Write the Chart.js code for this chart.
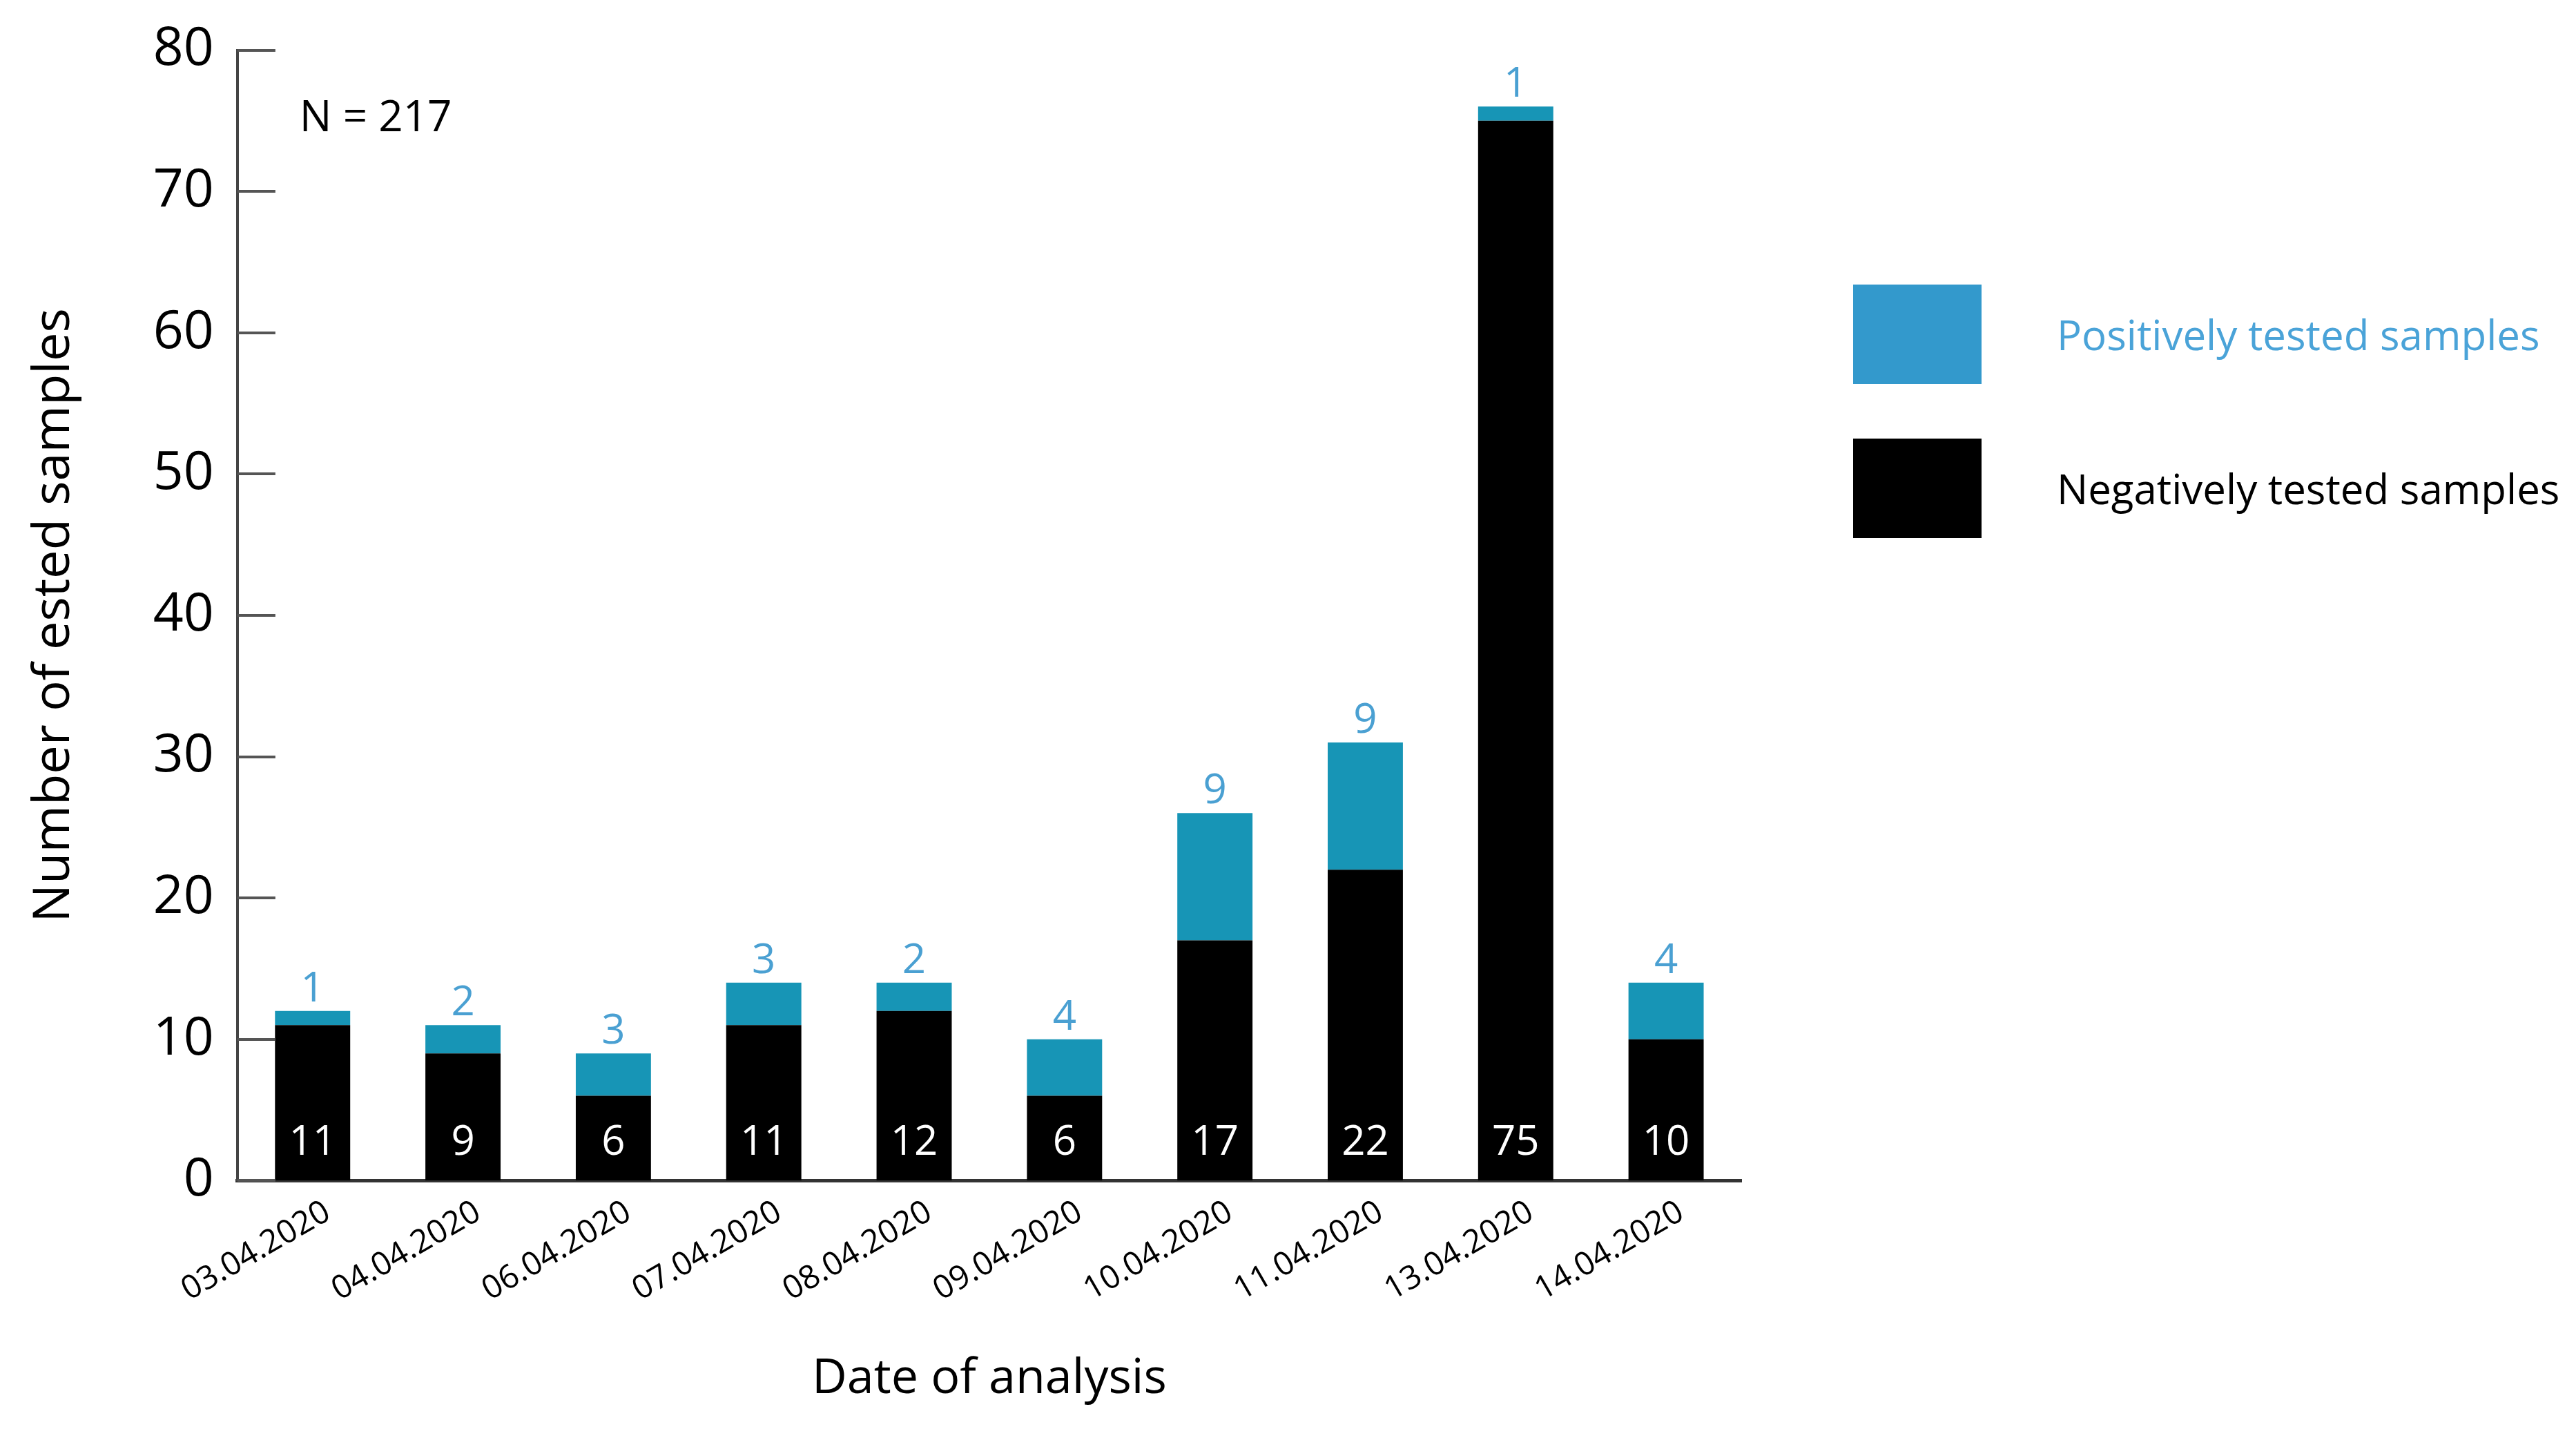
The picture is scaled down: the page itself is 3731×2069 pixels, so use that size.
<!DOCTYPE html>
<html>
<head>
<meta charset="utf-8">
<script src="https://cdn.jsdelivr.net/npm/chart.js@4.4.0/dist/chart.umd.min.js"></script>
<style>
  html, body { margin: 0; padding: 0; background: #fff; }
  #wrap { position: relative; width: 3731px; height: 2069px; }
  #legend { position: absolute; left: 2684px; top: 412px; font-family: "Open Sans", sans-serif; }
  .item { display: flex; align-items: center; margin-bottom: 79px; }
  .box { width: 186px; height: 144px; }
  .label { margin-left: 109px; font-size: 60px; white-space: nowrap; }
</style>
</head>
<body>
<div id="wrap">
  <canvas id="myChart"></canvas>
  <div id="legend"></div>
</div>
<script>
const dates = [
  "03.04.2020",
  "04.04.2020",
  "06.04.2020",
  "07.04.2020",
  "08.04.2020",
  "09.04.2020",
  "10.04.2020",
  "11.04.2020",
  "13.04.2020",
  "14.04.2020",
];
const negative = [11, 9, 6, 11, 12, 6, 17, 22, 75, 10];
const positive = [1, 2, 3, 3, 2, 4, 9, 9, 1, 4];
const yTicks = [0, 10, 20, 30, 40, 50, 60, 70, 80];

const FONT = "'Open Sans', sans-serif";

// inward tick marks on the y axis
const innerTicks = {
  id: "innerTicks",
  afterDraw(chart) {
    const y = chart.scales.y;
    const c = chart.ctx;
    c.save();
    c.strokeStyle = "#555";
    c.lineWidth = 4;
    y.ticks.forEach((t) => {
      const py = Math.round(y.getPixelForValue(t.value));
      c.beginPath();
      c.moveTo(y.right, py);
      c.lineTo(y.right + 55, py);
      c.stroke();
    });
    c.restore();
  },
};

// numbers on the bars + N label
const barLabels = {
  id: "barLabels",
  afterDatasetsDraw(chart) {
    const c = chart.ctx;
    const y = chart.scales.y;
    const negMeta = chart.getDatasetMeta(0);
    const posMeta = chart.getDatasetMeta(1);
    c.save();
    c.font = "60px " + FONT;
    c.textAlign = "center";
    c.textBaseline = "middle";
    c.fillStyle = "#fff";
    negMeta.data.forEach((bar, i) => {
      c.fillText(negative[i], bar.x, y.getPixelForValue(0) - 54);
    });
    c.textBaseline = "alphabetic";
    c.fillStyle = "#4aa0d2";
    posMeta.data.forEach((bar, i) => {
      c.fillText(positive[i], bar.x, bar.y - 14);
    });
    const total = negative.concat(positive).reduce((a, b) => a + b, 0);
    c.font = "62px " + FONT;
    c.fillStyle = "#000";
    c.textAlign = "left";
    c.textBaseline = "middle";
    c.fillText("N = " + total, chart.chartArea.left + 90, chart.chartArea.top + 100);
    c.restore();
  },
};

// html legend
const htmlLegend = {
  id: "htmlLegend",
  afterUpdate(chart) {
    const box = document.getElementById("legend");
    box.innerHTML = "";
    const items = chart.options.plugins.legend.labels.generateLabels(chart).reverse();
    items.forEach((it, i) => {
      const row = document.createElement("div");
      row.className = "item";
      const sw = document.createElement("div");
      sw.className = "box";
      sw.style.background = i === 0 ? "#3399cc" : it.fillStyle;
      const tx = document.createElement("div");
      tx.className = "label";
      tx.style.color = i === 0 ? "#4aa3d8" : "#000";
      tx.textContent = it.text;
      row.appendChild(sw);
      row.appendChild(tx);
      box.appendChild(row);
    });
  },
};

new Chart(document.getElementById("myChart"), {
  type: "bar",
  data: {
    labels: dates,
    datasets: [
      {
        label: "Negatively tested samples",
        data: negative,
        backgroundColor: "#000000",
        barPercentage: 0.5,
        categoryPercentage: 1.0,
      },
      {
        label: "Positively tested samples",
        data: positive,
        backgroundColor: "#1795b6",
        barPercentage: 0.5,
        categoryPercentage: 1.0,
      },
    ],
  },
  options: {
    responsive: true,
    maintainAspectRatio: false,
    devicePixelRatio: 1,
    animation: false,
    layout: {
      padding: { top: 26, right: 1209, bottom: 30, left: 0 },
    },
    plugins: {
      legend: { display: false },
      tooltip: { enabled: false },
    },
    scales: {
      x: {
        stacked: true,
        grid: { display: false, drawTicks: false },
        border: { display: true, color: "#333", width: 5 },
        ticks: {
          color: "#000",
          font: { family: FONT, size: 47 },
          minRotation: 30,
          maxRotation: 30,
          padding: 18,
          labelOffset: 22,
        },
        title: {
          display: true,
          text: "Date of analysis",
          color: "#000",
          font: { family: FONT, size: 70 },
          padding: { top: 41, bottom: 0 },
        },
      },
      y: {
        stacked: true,
        min: 0,
        max: 80,
        afterBuildTicks(scale) {
          scale.ticks = yTicks.map((v) => ({ value: v }));
        },
        grid: { display: false, drawTicks: false },
        border: { display: true, color: "#444", width: 4 },
        ticks: {
          color: "#000",
          font: { family: FONT, size: 77, lineHeight: 1.0 },
          padding: 34,
        },
        title: {
          display: true,
          text: "Number of ested samples",
          color: "#000",
          font: { family: FONT, size: 74 },
          padding: { top: 35, bottom: 64 },
        },
      },
    },
  },
  plugins: [innerTicks, barLabels, htmlLegend],
});
</script>
</body>
</html>
